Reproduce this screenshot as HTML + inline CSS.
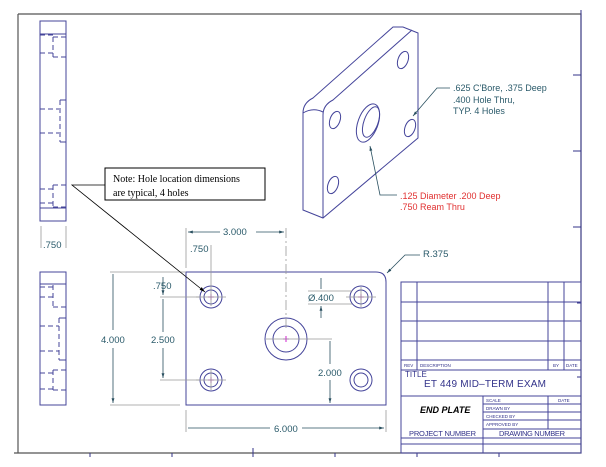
<!DOCTYPE html>
<html><head><style>body{margin:0;background:#fff}svg{display:block}text{font-family:"Liberation Sans",sans-serif}text.serif{font-family:"Liberation Serif",serif}</style></head><body>
<svg width="606" height="467" viewBox="0 0 606 467" xmlns="http://www.w3.org/2000/svg">
<defs><marker id="a" viewBox="0 0 10 10" refX="10" refY="5" markerWidth="6" markerHeight="6" orient="auto-start-reverse"><path d="M0,2L10,5L0,8z" fill="#2a5060"/></marker>
<marker id="b" viewBox="0 0 10 10" refX="10" refY="5" markerWidth="7" markerHeight="7" orient="auto"><path d="M0,2L10,5L0,8z" fill="#000"/></marker></defs>
<path d="M18,14H581V453H14" fill="none" stroke="#555" stroke-width="1.2"/>
<path d="M18,14V453" stroke="#555" stroke-width="1.2"/>
<g stroke="#33338a" stroke-width="1"><path d="M90,453v4M172,453v4M253,448v9M335,453v4M417,453v4M499,453v4M581,10v443M573,75h8M573,151h8M573,227h8M581,303h-4M581,377h-4"/></g>
<g fill="none" stroke="#44449a" stroke-width="1">
<rect x="40" y="21" width="26" height="200"/><path d="M40,34H66M40,208H66"/>
<g stroke-dasharray="5,3"><path d="M40,35H53M40,53H53M53,37V57M53,37H66M53,57H66M40,109H59M40,133H59M60,100V142M40,189H53M40,203H53M53,185V207M53,185H66M53,207H66"/></g>
<path d="M60,100H66M60,142H66"/>
<rect x="40" y="272" width="26" height="133"/><path d="M40,284H66"/>
<g stroke-dasharray="5,3"><path d="M40,287H53M40,297H53M53,285V307M53,307H66M40,326H59M40,351H59M59,318V360M40,373H53M40,389H53M53,370V390M53,370H66M53,390H66"/></g>
<path d="M59,318H66M59,360H66"/>
<path d="M186,272H376Q386,272 386,282V405H186Z"/>
<circle cx="211" cy="297" r="11"/><circle cx="211" cy="297" r="7"/>
<circle cx="211" cy="380" r="11"/><circle cx="211" cy="380" r="7"/>
<circle cx="361" cy="297" r="11"/><circle cx="361" cy="297" r="7"/>
<circle cx="361" cy="380" r="11"/><circle cx="361" cy="380" r="7"/>
<circle cx="286" cy="339" r="21"/><circle cx="286" cy="339" r="13"/>
<path d="M303,113Q303,103 313,98L393,27L403,27L418,33V138L323,218L303,210Z"/>
<path d="M323,218V115Q323,105 333,100L412,30"/>
<path d="M303,113Q313,107 323,112"/>
<ellipse cx="403" cy="60" rx="5" ry="9" transform="rotate(20 403 60)"/>
<ellipse cx="335" cy="120" rx="5" ry="9" transform="rotate(20 335 120)"/>
<ellipse cx="410" cy="128" rx="5" ry="9" transform="rotate(20 410 128)"/>
<ellipse cx="333" cy="185" rx="5" ry="9" transform="rotate(20 333 185)"/>
<ellipse cx="368" cy="123" rx="10" ry="20" transform="rotate(20 368 123)"/>
<ellipse cx="371" cy="122" rx="7" ry="16" transform="rotate(20 371 122)"/>
<rect x="401" y="282" width="180" height="171"/>
<path d="M401,302H581M401,321H581M401,341H581M401,360H581M401,370H581M401,396H581M483,404H581M483,412H581M483,420H581M483,429H581M401,438H581M401,444H581M417,282V370M548,282V370M564,282V370M483,396V453M548,396V429"/>
</g>
<g stroke="#d020d0" stroke-width="1"><path d="M208,297h6M211,294v6M208,380h6M211,377v6M358,297h6M361,294v6M283,339h6M286,336v6"/></g>
<g stroke="#999" stroke-width="0.8" fill="none">
<path d="M186,228V268M211,245V306M196,297H226M196,380H226M211,370V390M346,297H376M361,287V307M266,339H332"/>
<path d="M286,228V330" stroke-dasharray="10,3,2,3"/>
<path d="M110,272H186M110,405H180M160,297H200M160,380H200M308,291H352M308,304H352M186,410V432M386,410V432M41,226V248M66,226V248"/>
</g>
<g stroke="#2a5060" stroke-width="0.8" fill="none">
<path d="M256,232H284" marker-end="url(#a)"/><path d="M220,232H188" marker-end="url(#a)"/>
<path d="M113,330V274M113,348V403" marker-end="url(#a)"/>
<path d="M163,332V299M163,348V378" marker-end="url(#a)"/>
<path d="M163,277V295" marker-end="url(#a)"/>
<path d="M321,278V289M321,318V306" marker-end="url(#a)"/>
<path d="M330,364V341M330,380V403" marker-end="url(#a)"/>
<path d="M270,428H188M302,428H384" marker-end="url(#a)"/>
<path d="M420,255H405L387,273" marker-end="url(#a)"/>
<path d="M450,88H437L413,116" marker-end="url(#a)"/>
<path d="M397,195H380L370,146" marker-end="url(#a)"/>
</g>
<g fill="#2a5a6a" font-size="9.5">
<text x="223" y="235">3.000</text><text x="190" y="252">.750</text>
<text x="101" y="343">4.000</text><text x="151" y="343">2.500</text><text x="153" y="289">.750</text>
<text x="308" y="301">Ø.400</text><text x="318" y="376">2.000</text><text x="274" y="432">6.000</text>
<text x="43" y="248">.750</text><text x="423" y="257">R.375</text>
<text x="453" y="91" font-size="9">.625 C'Bore, .375 Deep</text>
<text x="453" y="103" font-size="9">.400 Hole Thru,</text>
<text x="453" y="114" font-size="9">TYP. 4 Holes</text>
</g>
<g fill="#e03030" font-size="9"><text x="400" y="199">.125 Diameter .200 Deep</text><text x="400" y="210">.750 Ream Thru</text></g>
<rect x="105" y="168" width="160" height="32" fill="#fff" stroke="#000" stroke-width="1"/>
<text class="serif" x="113" y="182" font-size="10">Note:  Hole location dimensions</text>
<text class="serif" x="113" y="196" font-size="10">are typical, 4 holes</text>
<path d="M105,185H72L205,292" fill="none" stroke="#000" stroke-width="0.8" marker-end="url(#b)"/>
<g fill="#33338a" font-size="4.5"><text x="404" y="367">REV</text><text x="420" y="367">DESCRIPTION</text><text x="553" y="367">BY</text><text x="566" y="367">DATE</text>
<text x="486" y="402">SCALE</text><text x="558" y="402">DATE</text><text x="486" y="410">DRAWN BY</text><text x="486" y="418">CHECKED BY</text><text x="486" y="426">APPROVED BY</text></g>
<text x="405" y="377" fill="#33338a" font-size="8">TITLE</text>
<text x="424" y="387" fill="#33338a" font-size="10" textLength="122">ET 449  MID–TERM  EXAM</text>
<text x="420" y="413" fill="#000" font-size="9" font-weight="bold" font-style="italic">END PLATE</text>
<text x="409" y="436" fill="#33338a" font-size="7.5" textLength="67">PROJECT NUMBER</text>
<text x="499" y="436" fill="#33338a" font-size="7.5" textLength="66">DRAWING NUMBER</text>
</svg>
</body></html>
